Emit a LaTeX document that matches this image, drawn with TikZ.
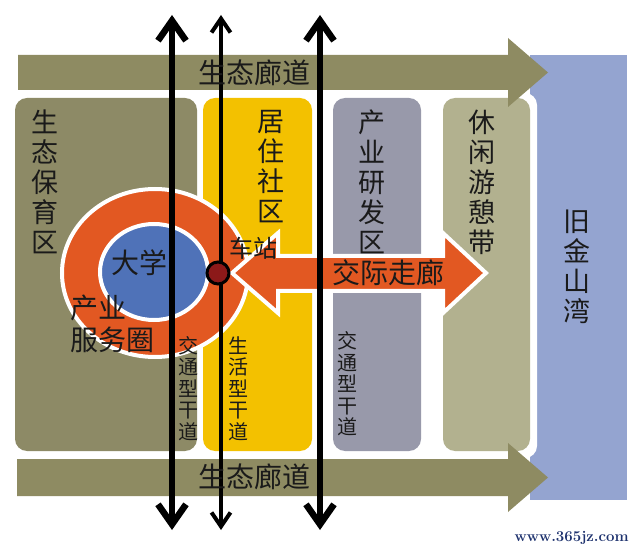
\documentclass[tikz,border=0pt]{standalone}
\usepackage{fontspec}
\newfontfamily\cjk{Noto Sans CJK SC}
\usepackage{tikz}
\usetikzlibrary{arrows.meta,positioning,shapes.geometric}
\definecolor{bandc}{RGB}{142,139,98}
\definecolor{ecoc}{RGB}{141,138,102}
\definecolor{homec}{RGB}{243,193,0}
\definecolor{workc}{RGB}{152,153,170}
\definecolor{restc}{RGB}{178,177,143}
\definecolor{bayc}{RGB}{148,164,208}
\definecolor{ringc}{RGB}{226,88,34}
\definecolor{unic}{RGB}{79,114,184}
\definecolor{dotc}{RGB}{140,25,25}
\definecolor{inkc}{RGB}{26,26,26}
\definecolor{markc}{RGB}{30,50,110}

\begin{document}
\begin{tikzpicture}[x=1pt,y=-1pt,every node/.style={outer sep=0pt},
 zone/.style={rounded corners=12pt,minimum height=353pt,inner sep=0pt},
 hlab/.style={font=\cjk\fontsize{28}{32}\selectfont,text=inkc,inner sep=0pt,align=left},
 vlab/.style={font=\cjk\fontsize{27}{30}\selectfont,text=inkc,inner sep=0pt,align=center},
 slab/.style={font=\cjk\fontsize{20}{21.5}\selectfont,text=inkc,inner sep=0pt,align=center},
 trunk/.style={line width=6.5pt,{Straight Barb[length=20pt,width=28pt]}-{Straight Barb[length=20pt,width=28pt]}},
 lane/.style={line width=4pt,{Straight Barb[length=14pt,width=19pt]}-{Straight Barb[length=14pt,width=19pt]}}]

  \useasboundingbox (0,0) rectangle (640,553);

  \node[fill=bayc,minimum width=97pt,minimum height=445pt,anchor=north west] (bay) at (530,55) {};
  \fill[white,rounded corners=12pt] (8,93) rectangle (537,458);

  \node[zone,fill=ecoc,minimum width=182pt,anchor=north west] (eco) at (15,98) {};
  \node[zone,fill=homec,minimum width=109pt,right=6pt of eco] (home) {};
  \node[zone,fill=workc,minimum width=88pt,right=21pt of home] (work) {};
  \node[zone,fill=restc,minimum width=87pt,right=22pt of work] (rest) {};

  \fill[bandc] (18,55) -- (508,55) -- (508,38) -- (548,72.5) -- (508,107) -- (508,90) -- (18,90) -- cycle;
  \fill[bandc] (17,459) -- (508,459) -- (508,443) -- (548,477.5) -- (508,512) -- (508,496) -- (17,496) -- cycle;

  \node[ellipse,fill=ringc,draw=white,line width=4pt,minimum width=186pt,minimum height=168pt] (ring) at (155,273) {};
  \node[ellipse,fill=unic,draw=white,line width=4pt,minimum width=108pt,minimum height=96pt] (uni) at (154,272) {};

  \draw[white,line width=4pt,fill=ringc,line join=miter]
   (278,233) -- (232,273) -- (278,313) -- (278,291) -- (443,291) -- (443,313)
   -- (486,273) -- (443,233) -- (443,256) -- (278,256) -- cycle;

  \foreach \X/\P/\S in {1/172/trunk,2/221/lane,3/320/trunk}
  {\coordinate (n\X) at (\P,15);
   \coordinate (s\X) at (\P,530);
   \draw[\S] (s\X) -- (n\X);
  }

  \node[circle,fill=dotc,draw=black,line width=3pt,minimum size=22pt,inner sep=0pt] (stn) at (218,273) {};

  \node[hlab] (eco1) at (254,73) {生态廊道};
  \node[hlab] (eco2) at (254,477) {生态廊道};
  \node[vlab] (ecol) at (45,182) {生\\态\\保\\育\\区};
  \node[vlab] (homel) at (271,166.5) {居\\住\\社\\区};
  \node[vlab] (workl) at (372,182) {产\\业\\研\\发\\区};
  \node[vlab] (restl) at (482,182) {休\\闲\\游\\憩\\带};
  \node[vlab] (bayl) at (577,267) {旧\\金\\山\\湾};
  \node[hlab] (unil) at (139,263) {大学};
  \node[hlab,anchor=west] (svcl) at (70,324) {产业\\服务圈};
  \node[hlab,font=\cjk\fontsize{24}{26}\selectfont] (stnl) at (253,248) {车站};
  \node[hlab] (corl) at (388,273) {交际走廊};
  \node[slab] (rd1) at (188,388.5) {交\\通\\型\\干\\道};
  \node[slab] (rd2) at (238,388.5) {生\\活\\型\\干\\道};
  \node[slab] (rd3) at (347,384) {交\\通\\型\\干\\道};

  \node[font=\bfseries\fontsize{15}{15}\selectfont,text=markc,anchor=east] (mark) at (632,538) {www.365jz.com};

\end{tikzpicture}
\end{document}
